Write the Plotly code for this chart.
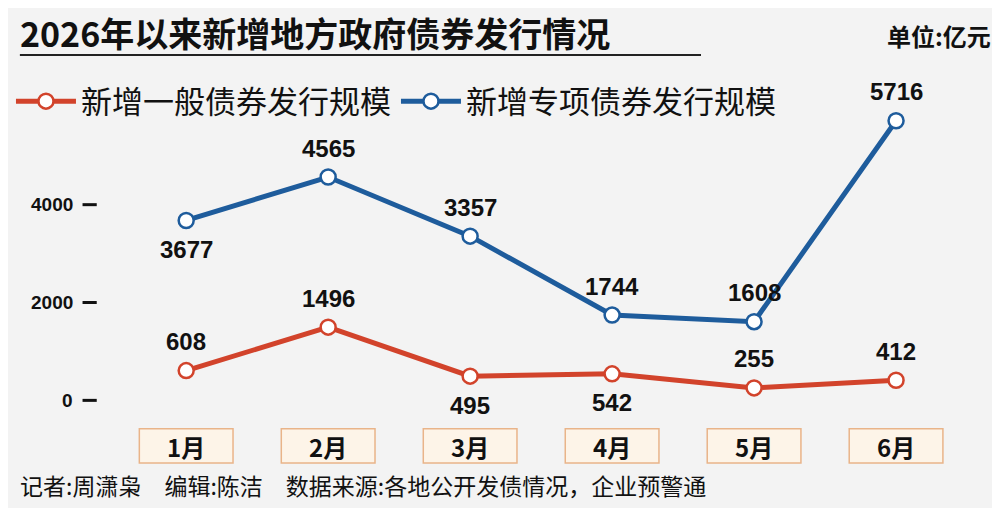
import plotly.graph_objects as go

months = ["1月", "2月", "3月", "4月", "5月", "6月"]
general = [608, 1496, 495, 542, 255, 412]
special = [3677, 4565, 3357, 1744, 1608, 5716]
yticks = [0, 2000, 4000]
general_pos = ["above", "above", "below", "below", "above", "above"]
special_pos = ["below", "above", "above", "above", "above", "above"]

RED = "#d2432b"
BLUE = "#1e5c9c"
FONT = "Noto Sans CJK SC"
x = list(range(len(months)))

fig = go.Figure()
for vals, color, name in [(general, RED, "新增一般债券发行规模"), (special, BLUE, "新增专项债券发行规模")]:
    fig.add_trace(go.Scatter(
        x=x, y=vals, name=name, mode="lines+markers",
        line=dict(color=color, width=5),
        marker=dict(size=15, color="white", line=dict(color=color, width=2.5)),
    ))

ann = []
for vals, pos in [(general, general_pos), (special, special_pos)]:
    for i, (v, p) in enumerate(zip(vals, pos)):
        ann.append(dict(x=i, y=v, text=f"<b>{v}</b>", showarrow=False,
                        yshift=29 if p == "above" else -29,
                        font=dict(size=24, color="#111", family="Liberation Sans")))

shapes = []
for i, m in enumerate(months):
    shapes.append(dict(type="rect", xref="x", yref="paper", x0=i - 0.33, x1=i + 0.33,
                       y0=1 - 465 / 511, y1=1 - 430 / 511, line=dict(color="#e9b489", width=1.5),
                       fillcolor="#fdf4e8", layer="below"))
    ann.append(dict(x=i, y=1 - 448 / 511, yref="paper", yanchor="middle", text=f"<b>{m}</b>",
                    showarrow=False, font=dict(size=24, color="#111", family=FONT)))
for t in yticks:
    ann.append(dict(x=-0.78, y=t, text=f"<b>{t}</b>", showarrow=False, xanchor="right",
                    yanchor="middle", font=dict(size=19, color="#111", family="Liberation Sans")))
    shapes.append(dict(type="line", xref="x", yref="y", x0=-0.73, x1=-0.63, y0=t, y1=t,
                       line=dict(color="#111", width=3)))

shapes.append(dict(type="line", xref="paper", yref="paper", x0=0.012, x1=0.7,
                   y0=1 - 48 / 511, y1=1 - 48 / 511, line=dict(color="#222", width=2)))
ann += [
    dict(x=0.01, y=1 - 25 / 511, xref="paper", yref="paper", xanchor="left", yanchor="middle",
         text="<b>2026年以来新增地方政府债券发行情况</b>", showarrow=False,
         font=dict(size=34, color="#111", family=FONT)),
    dict(x=0.995, y=1 - 28 / 511, xref="paper", yref="paper", xanchor="right", yanchor="middle",
         text="<b>单位:亿元</b>", showarrow=False, font=dict(size=24, color="#111", family=FONT)),
    dict(x=0.01, y=1 - 488 / 511, xref="paper", yref="paper", xanchor="left", yanchor="middle",
         text="记者:周潇枭　编辑:陈洁　数据来源:各地公开发债情况，企业预警通", showarrow=False,
         font=dict(size=23, color="#111", family=FONT)),
]

fig.update_layout(
    width=990, height=500, margin=dict(l=0, r=0, t=0, b=0),
    paper_bgcolor="#f3f3f3", plot_bgcolor="#f3f3f3",
    xaxis=dict(range=[-1.255, 5.718], visible=False),
    yaxis=dict(range=[-2200, 8020], visible=False),
    showlegend=True,
    legend=dict(orientation="h", x=0.003, y=1 - 68 / 511, xanchor="left", yanchor="top",
                font=dict(size=31, color="#111", family=FONT), bgcolor="rgba(0,0,0,0)",
                itemwidth=60),
    annotations=ann, shapes=shapes,
)
fig.write_html("out.html")
